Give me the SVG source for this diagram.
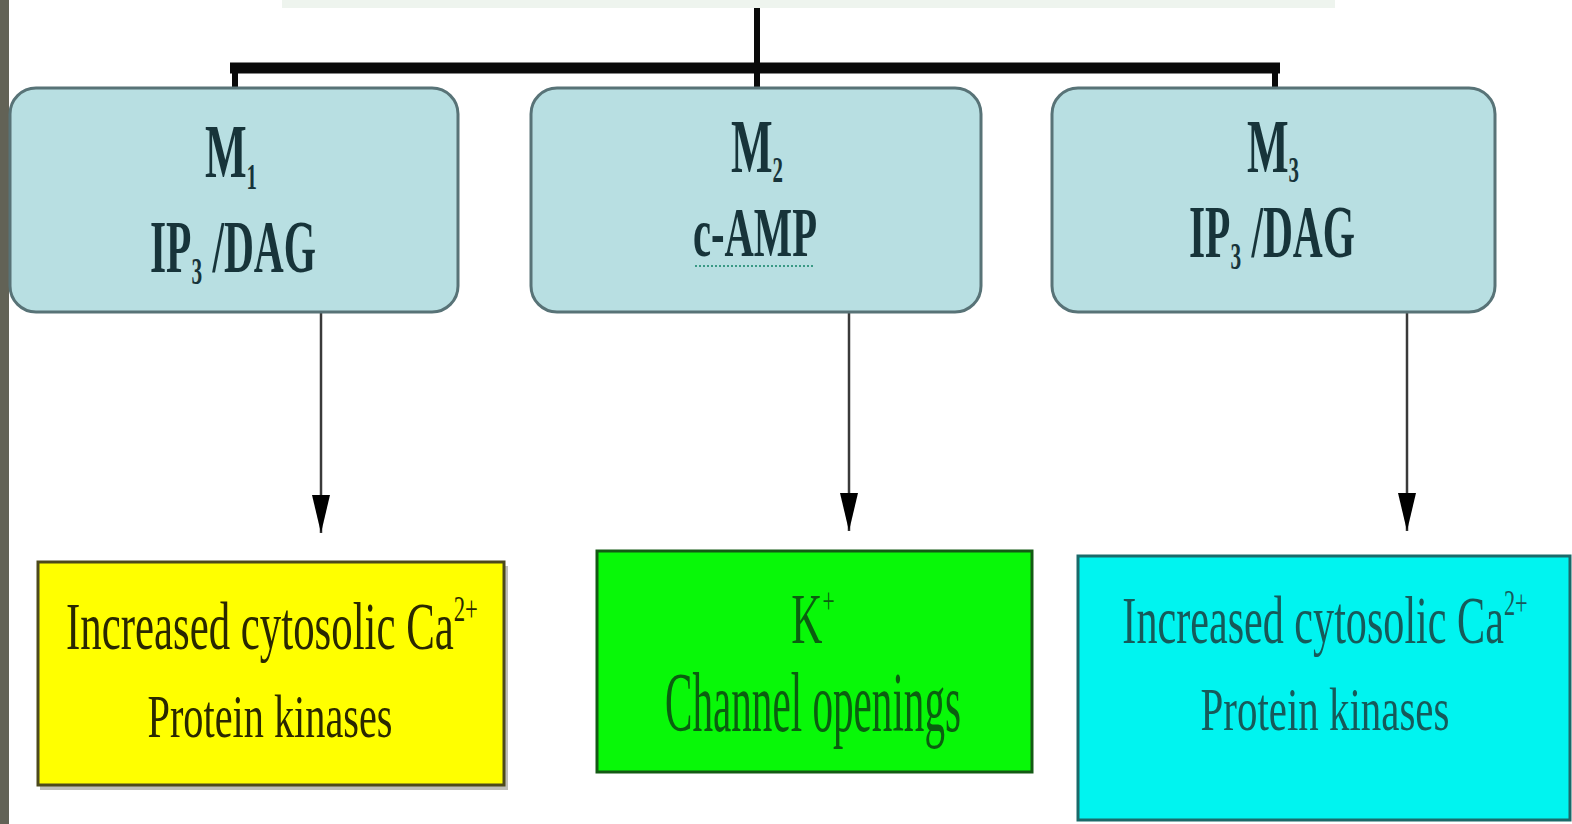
<svg xmlns="http://www.w3.org/2000/svg" width="1572" height="824" viewBox="0 0 1572 824">
<style>
.rbox{fill:#b8dfe2;stroke:#587377;stroke-width:3}
.tt{font-family:"Liberation Serif","Times New Roman",serif;font-weight:bold;fill:#17343a;text-anchor:middle}
.bt{font-family:"Liberation Serif","Times New Roman",serif;text-anchor:middle}
.arrow{stroke:#3a3a3a;stroke-width:2.5;fill:none}
.shadow{fill:#8a8a80;opacity:0.55}
</style>
<defs>
<marker id="ah" markerUnits="userSpaceOnUse" markerWidth="40" markerHeight="18" refX="38" refY="9" orient="auto">
<path d="M0,0 L38,9 L0,18 z" fill="#000"/>
</marker>
</defs>
<rect x="0" y="0" width="1572" height="824" fill="#ffffff"/>
<rect x="0" y="0" width="9" height="824" fill="#626256"/>
<rect x="282" y="0" width="1053" height="8" fill="#eef4ee"/>

<g id="connectors">
<line x1="757" y1="8" x2="757" y2="90" stroke="#0a0a0a" stroke-width="6"/>
<line x1="230" y1="68" x2="1280" y2="68" stroke="#0a0a0a" stroke-width="11"/>
<line x1="235" y1="64" x2="235" y2="90" stroke="#0a0a0a" stroke-width="6"/>
<line x1="1275" y1="64" x2="1275" y2="90" stroke="#0a0a0a" stroke-width="6"/>
<line class="arrow" x1="321" y1="313" x2="321" y2="533" marker-end="url(#ah)"/>
<line class="arrow" x1="849" y1="313" x2="849" y2="531" marker-end="url(#ah)"/>
<line class="arrow" x1="1407" y1="313" x2="1407" y2="531" marker-end="url(#ah)"/>
</g>

<g id="m1">
<rect class="rbox" x="10" y="88" width="448" height="224" rx="26"/>
<text class="tt" font-size="76" transform="translate(231,177) scale(0.58,1)">M<tspan font-size="36" dy="12">1</tspan></text>
<text class="tt" font-size="74" transform="translate(233,272) scale(0.56,1)">IP<tspan font-size="38" dy="12">3</tspan><tspan dy="-12"> /DAG</tspan></text>
</g>

<g id="m2">
<rect class="rbox" x="531" y="88" width="450" height="224" rx="26"/>
<text class="tt" font-size="76" transform="translate(757,172) scale(0.58,1)">M<tspan font-size="36" dy="10">2</tspan></text>
<text class="tt" font-size="70" transform="translate(755,256) scale(0.58,1)">c-AMP</text>
<line x1="695" y1="266" x2="815" y2="266" stroke="#3a9a85" stroke-width="2" stroke-dasharray="2 2"/>
</g>

<g id="m3">
<rect class="rbox" x="1052" y="88" width="443" height="224" rx="26"/>
<text class="tt" font-size="76" transform="translate(1273,172) scale(0.58,1)">M<tspan font-size="36" dy="10">3</tspan></text>
<text class="tt" font-size="74" transform="translate(1272,257) scale(0.56,1)">IP<tspan font-size="38" dy="12">3</tspan><tspan dy="-12"> /DAG</tspan></text>
</g>

<g id="yellow">
<rect class="shadow" x="40" y="566" width="468" height="224"/>
<rect x="38" y="562" width="466" height="223" fill="#ffff00" stroke="#4d4a1c" stroke-width="3"/>
<text class="bt" fill="#2a2800" font-size="68" transform="translate(272,649) scale(0.63,1)">Increased cytosolic Ca<tspan font-size="36" dy="-28">2+</tspan></text>
<text class="bt" fill="#2a2800" font-size="62" transform="translate(270,737) scale(0.65,1)">Protein kinases</text>
</g>

<g id="green">
<rect x="597" y="551" width="435" height="221" fill="#08f808" stroke="#145a14" stroke-width="3"/>
<text class="bt" fill="#0b5e10" font-size="72" transform="translate(813,643) scale(0.6,1)">K<tspan font-size="36" dy="-30">+</tspan></text>
<text class="bt" fill="#0b5e10" font-size="84" transform="translate(813,731) scale(0.49,1)">Channel openings</text>
</g>

<g id="cyan">
<rect x="1078" y="556" width="492" height="264" fill="#00f4f0" stroke="#1a6a6a" stroke-width="3"/>
<text class="bt" fill="#165a5a" font-size="68" transform="translate(1325,643) scale(0.62,1)">Increased cytosolic Ca<tspan font-size="36" dy="-28">2+</tspan></text>
<text class="bt" fill="#165a5a" font-size="62" transform="translate(1325,730) scale(0.66,1)">Protein kinases</text>
</g>
</svg>
